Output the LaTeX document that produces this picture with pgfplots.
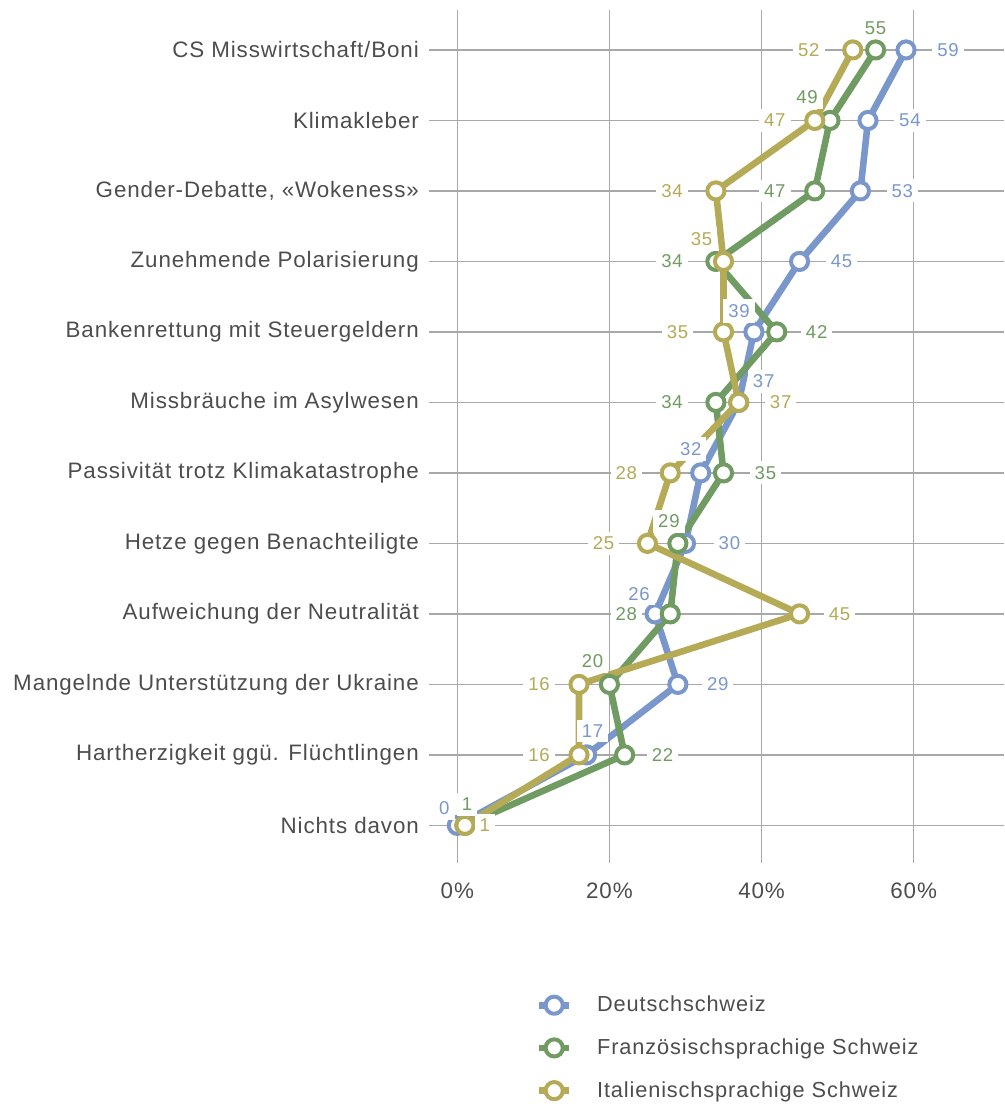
\documentclass[border=0pt]{standalone}
\usepackage{pgfplots}
\pgfplotsset{compat=1.18}
\usepackage{pgfplotstable}
\usepackage{fontspec}
\setmainfont[LetterSpace=4]{Liberation Sans}

\definecolor{cDE}{HTML}{7A97CC}
\definecolor{cFR}{HTML}{709B62}
\definecolor{cIT}{HTML}{B5AA56}
\definecolor{gridc}{HTML}{A8A8A8}
\definecolor{txt}{HTML}{4D4D4D}

% x = share in %, y = category index (0 = top), dx/dy = label offset in pt
\pgfplotstableread{
x  y  dx   dy
59 0  21   0
54 1  21   0
53 2  21   0
45 3  21   0
39 4  -7.5 10.5
37 5  12.5 10.5
32 6  -5   12
30 7  22   0
26 8  -8   10
29 9  20   0
17 10 3    12
0  11 -6.5 8.5
}\dataDE
\pgfplotstableread{
x  y  dx    dy
55 0  0     11
49 1  -11.5 11.5
47 2  -20   0
34 3  -22   0
42 4  20    0
34 5  -22   0
35 6  21    0
29 7  -4.5  11
28 8  -22   0
20 9  -8.5  11.5
22 10 19    0
1  11 1     10.5
}\dataFR
\pgfplotstableread{
x  y  dx  dy
52 0  -22 0
47 1  -20 0
34 2  -22 0
35 3  -11 11
35 4  -23 0
37 5  21  0
28 6  -22 0
25 7  -22 0
45 8  20  0
16 9  -20 0
16 10 -20 0
1  11 10  0
}\dataIT

\pgfplotsset{
  series/.style={line width=3.3pt, line join=round, color=#1,
    mark=*, mark size=4.3pt, mark options={fill=white, draw=#1, line width=2pt}},
  vals/.style={draw=none, forget plot, nodes near coords,
    point meta=explicit symbolic,
    visualization depends on={\thisrow{dx} \as \dx},
    visualization depends on={\thisrow{dy} \as \dy},
    every node near coord/.append style={anchor=center, xshift=\dx pt, yshift=\dy pt,
      fill=white, inner sep=2.5pt, text=#1, font=\fontsize{9.3}{9.3}\selectfont}},
}

\begin{document}
\begin{tikzpicture}
\begin{axis}[
  scale only axis, width=288pt, height=427.5pt,
  xmin=-3.7, xmax=71.9, ymin=-0.567, ymax=11.54, y dir=reverse,
  clip=false,
  axis line style={draw=none}, major tick length=0pt,
  xtick={0,20,40,60}, xticklabels={0\%,20\%,40\%,60\%},
  ytick={0,...,11},
  yticklabels={CS Misswirtschaft/Boni, Klimakleber, {Gender-Debatte, «Wokeness»},
    Zunehmende Polarisierung, Bankenrettung mit Steuergeldern,
    Missbräuche im Asylwesen, Passivität trotz Klimakatastrophe,
    Hetze gegen Benachteiligte, Aufweichung der Neutralität,
    Mangelnde Unterstützung der Ukraine, Hartherzigkeit ggü. Flüchtlingen, Nichts davon},
  ticklabel style={font=\fontsize{11.2}{13}\selectfont, text=txt},
  yticklabel style={inner sep=0pt, xshift=-5pt},
  xticklabel style={yshift=-6pt},
  grid=major, major grid style={gridc, line width=0.75pt},
  legend style={draw=none, fill=none, at={(axis description cs:0.185,-0.15)}, anchor=north west,
    legend cell align=left, row sep=8pt, inner sep=0pt,
    font=\fontsize{10.9}{13}\selectfont, text=txt},
  legend image code/.code={
    \draw[#1, mark=none] (0pt,0pt) -- (15pt,0pt);
    \draw[#1] plot coordinates {(7.5pt,0pt)};
    \path[draw=none] (0pt,0pt) -- (27pt,0pt);
  },
]
\addplot[series=cDE] table[x=x, y=y]{\dataDE};
\addlegendentry{Deutschschweiz}
\addplot[series=cFR] table[x=x, y=y]{\dataFR};
\addlegendentry{Französischsprachige Schweiz}
\addplot[series=cIT] table[x=x, y=y]{\dataIT};
\addlegendentry{Italienischsprachige Schweiz}

\addplot[vals=cDE] table[x=x, y=y, meta=x]{\dataDE};
\addplot[vals=cFR] table[x=x, y=y, meta=x]{\dataFR};
\addplot[vals=cIT] table[x=x, y=y, meta=x]{\dataIT};

\path (rel axis cs:-0.7465,-0.2795) (rel axis cs:1,1.0117);
\end{axis}
\end{tikzpicture}
\end{document}
